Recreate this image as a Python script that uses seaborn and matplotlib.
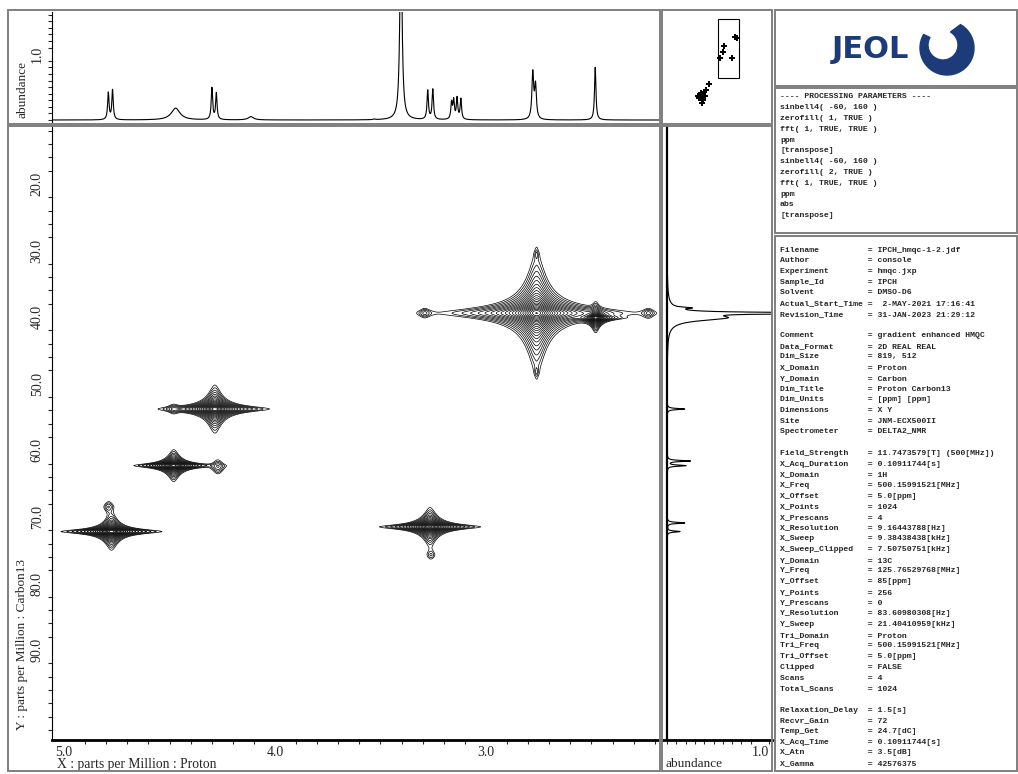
import numpy as np
import pandas as pd
import matplotlib
matplotlib.use("Agg")
import matplotlib.pyplot as plt
from matplotlib.patches import Rectangle, Polygon
from matplotlib.ticker import MultipleLocator, FormatStrFormatter, FixedLocator
import seaborn as sns

# 1H projection (top trace): ppm, height, half width [ppm]
h_ppm = [4.790, 4.770, 4.471, 4.299, 4.278, 4.114, 3.530, 3.403, 3.276, 3.252,
         3.163, 3.153, 3.137, 3.119, 2.778, 2.765, 2.482]
h_height = [0.41, 0.45, 0.18, 0.48, 0.40, 0.05, 0.01, 3.0, 0.44, 0.46,
            0.25, 0.28, 0.32, 0.31, 0.70, 0.50, 0.80]
h_width = [0.004, 0.004, 0.025, 0.004, 0.004, 0.015, 0.005, 0.006, 0.004, 0.004,
           0.004, 0.004, 0.004, 0.004, 0.005, 0.005, 0.004]

# 13C projection (right trace)
c_ppm = [38.6, 39.4, 40.1, 53.8, 61.6, 62.3, 70.9, 72.2]
c_height = [0.17, 2.0, 0.6, 0.19, 0.25, 0.20, 0.19, 0.14]
c_width = [0.12, 0.12, 0.5, 0.10, 0.10, 0.10, 0.10, 0.10]

# HMQC cross peaks: 1H ppm, 13C ppm, half extent in x / y (ppm), intensity
pk_h = [4.775, 4.79, 4.48, 4.27, 4.285, 4.48, 3.265, 3.26, 2.76, 2.76, 2.76, 2.48, 3.29, 2.23]
pk_c = [72.2, 68.5, 62.3, 62.5, 53.8, 53.8, 71.5, 75.7, 39.4, 30.6, 48.2, 40.1, 39.4, 39.4]
pk_dx = [0.24, 0.02, 0.19, 0.03, 0.26, 0.025, 0.24, 0.015, 0.45, 0.004, 0.004, 0.12, 0.025, 0.025]
pk_dy = [2.8, 0.7, 2.4, 1.0, 3.6, 0.6, 2.9, 0.5, 9.0, 0.4, 0.4, 2.2, 0.6, 0.6]
pk_int = [600, 2.6, 400, 3.5, 600, 2.6, 500, 1.8, 1200, 1.5, 1.5, 300, 2.6, 2.6]
SHAPE_P = 1.4

# overview map: aromatic peaks outside the zoomed window
ov_h = [7.43, 7.03, 7.69, 6.77, 6.38, 7.17, 7.82, 6.90, 7.30, 7.50, 7.10]
ov_c = [130.0, 125.4, 134.7, 122.2, 112.9, 137.9, 131.6, 131.6, 142.6, 127.0, 129.0]

proc_lines = [
    "---- PROCESSING PARAMETERS ----",
    "sinbell4( -60, 160 )",
    "zerofill( 1, TRUE )",
    "fft( 1, TRUE, TRUE )",
    "ppm",
    "[transpose]",
    "sinbell4( -60, 160 )",
    "zerofill( 2, TRUE )",
    "fft( 1, TRUE, TRUE )",
    "ppm",
    "abs",
    "[transpose]",
]

param_names = [
    "Filename", "Author", "Experiment", "Sample_Id", "Solvent", "Actual_Start_Time",
    "Revision_Time", "",
    "Comment", "Data_Format", "Dim_Size", "X_Domain", "Y_Domain", "Dim_Title",
    "Dim_Units", "Dimensions", "Site", "Spectrometer", "",
    "Field_Strength", "X_Acq_Duration", "X_Domain", "X_Freq", "X_Offset", "X_Points",
    "X_Prescans", "X_Resolution", "X_Sweep", "X_Sweep_Clipped", "Y_Domain", "Y_Freq",
    "Y_Offset", "Y_Points", "Y_Prescans", "Y_Resolution", "Y_Sweep", "Tri_Domain",
    "Tri_Freq", "Tri_Offset", "Clipped", "Scans", "Total_Scans", "",
    "Relaxation_Delay", "Recvr_Gain", "Temp_Get", "X_Acq_Time", "X_Atn", "X_Gamma",
]
param_values = [
    "IPCH_hmqc-1-2.jdf", "console", "hmqc.jxp", "IPCH", "DMSO-D6", " 2-MAY-2021 17:16:41",
    "31-JAN-2023 21:29:12", "",
    "gradient enhanced HMQC", "2D REAL REAL", "819, 512", "Proton", "Carbon",
    "Proton Carbon13", "[ppm] [ppm]", "X Y", "JNM-ECX500II", "DELTA2_NMR", "",
    "11.7473579[T] (500[MHz])", "0.10911744[s]", "1H", "500.15991521[MHz]", "5.0[ppm]",
    "1024", "4", "9.16443788[Hz]", "9.38438438[kHz]", "7.50750751[kHz]", "13C",
    "125.76529768[MHz]", "85[ppm]", "256", "0", "83.60980308[Hz]", "21.40410959[kHz]",
    "Proton", "500.15991521[MHz]", "5.0[ppm]", "FALSE", "4", "1024", "",
    "1.5[s]", "72", "24.7[dC]", "0.10911744[s]", "3.5[dB]", "42576375",
]

X_LIM = (5.057, 2.175)
Y_LIM = (103.5, 11.3)
Y_MAJOR = [20, 30, 40, 50, 60, 70, 80, 90]

sns.set_style("white")
plt.rcParams["font.family"] = ["Liberation Serif", "DejaVu Serif"]
plt.rcParams["font.size"] = 10

W, H = 1018, 774
fig = plt.figure(figsize=(W / 100, H / 100), dpi=100)


def box(l, t, r, b):
    return [l / W, 1 - b / H, (r - l) / W, (b - t) / H]


# panel frames
for l, t, r, b in [(8, 10, 660, 124), (8, 126, 660, 771), (662, 10, 772, 124),
                   (662, 126, 772, 771), (775, 10, 1017, 86), (775, 88, 1017, 233),
                   (775, 236, 1017, 771)]:
    fig.patches.append(Rectangle((l / W, 1 - b / H), (r - l) / W, (b - t) / H,
                                 transform=fig.transFigure, fill=False,
                                 edgecolor="#7f7f7f", linewidth=1.4))

# --- top 1H trace
x = np.linspace(X_LIM[0], X_LIM[1], 4000)
inten = np.zeros_like(x)
for p, a, w in zip(h_ppm, h_height, h_width):
    inten += a / (1 + ((x - p) / w) ** 2)
top_df = pd.DataFrame({"ppm": x, "abundance": inten})

ax_top = fig.add_axes(box(52, 12, 660, 122))
sns.lineplot(data=top_df, x="ppm", y="abundance", ax=ax_top, color="black",
             linewidth=0.8, estimator=None, sort=False)
ax_top.set_xlim(*X_LIM)
ax_top.set_ylim(-0.03, 1.64)
ax_top.set_xticks([])
ax_top.yaxis.set_major_locator(FixedLocator([1.0]))
ax_top.yaxis.set_minor_locator(MultipleLocator(0.1))
ax_top.yaxis.set_major_formatter(FormatStrFormatter("%.1f"))
ax_top.tick_params(axis="y", which="major", length=5, width=0.8, direction="out",
                   labelrotation=90, pad=1)
ax_top.tick_params(axis="y", which="minor", length=3, width=0.8, direction="out", left=True)
for lab in ax_top.get_yticklabels():
    lab.set_va("center")
ax_top.set_xlabel("")
ax_top.set_ylabel("abundance", fontsize=9.5)
ax_top.yaxis.set_label_coords(-0.049, 0.036)
ax_top.yaxis.label.set_va("center")
ax_top.yaxis.label.set_ha("left")
for s in ["top", "right", "bottom"]:
    ax_top.spines[s].set_visible(False)
ax_top.spines["left"].set_color("black")
ax_top.patch.set_alpha(0)

# --- main HMQC contour map
gx = np.linspace(X_LIM[0], X_LIM[1], 1000)
gy = np.linspace(Y_LIM[1], Y_LIM[0], 900)
GX, GY = np.meshgrid(gx, gy)
Z = np.zeros_like(GX)
for ph, pc, dx, dy, a in zip(pk_h, pk_c, pk_dx, pk_dy, pk_int):
    s = np.sqrt(a ** (1 / SHAPE_P) - 1)
    core = 1 / (1 + ((GX - ph) / (dx / s)) ** 2) / (1 + ((GY - pc) / (dy / s)) ** 2)
    Z += a * core ** SHAPE_P

ax = fig.add_axes(box(52, 126, 660, 740))
ax.contour(GX, GY, Z, levels=1.0 * 1.4 ** np.arange(22), colors="black", linewidths=0.5)
ax.set_xlim(*X_LIM)
ax.set_ylim(*Y_LIM)
ax.xaxis.set_major_locator(MultipleLocator(1.0))
ax.xaxis.set_minor_locator(MultipleLocator(0.1))
ax.xaxis.set_major_formatter(FormatStrFormatter("%.1f"))
ax.yaxis.set_major_locator(FixedLocator(Y_MAJOR))
ax.yaxis.set_minor_locator(MultipleLocator(2))
ax.yaxis.set_major_formatter(FormatStrFormatter("%.1f"))
ax.tick_params(axis="x", which="major", length=4, width=0.8, direction="out", pad=0)
ax.tick_params(axis="x", which="minor", length=3, width=0.8, direction="out", bottom=True)
ax.tick_params(axis="y", which="major", length=5, width=0.8, direction="out",
               labelrotation=90, pad=1)
ax.tick_params(axis="y", which="minor", length=3, width=0.8, direction="out", left=True)
for lab in ax.get_yticklabels():
    lab.set_va("center")
ax.set_xlabel("X : parts per Million : Proton", fontsize=9.8)
ax.xaxis.set_label_coords(0.008, -0.029)
ax.xaxis.label.set_ha("left")
ax.xaxis.label.set_va("top")
ax.set_ylabel("Y : parts per Million : Carbon13", fontsize=9.5)
ax.yaxis.set_label_coords(-0.049, 0.016)
ax.yaxis.label.set_ha("left")
ax.yaxis.label.set_va("center")
for s in ["top", "right"]:
    ax.spines[s].set_visible(False)
ax.spines["left"].set_color("black")
ax.spines["bottom"].set_color("black")
ax.spines["bottom"].set_linewidth(2)
ax.patch.set_alpha(0)

# --- right 13C trace
cy = np.linspace(Y_LIM[1], Y_LIM[0], 4000)
cint = np.zeros_like(cy)
for p, a, w in zip(c_ppm, c_height, c_width):
    cint += a / (1 + ((cy - p) / w) ** 2)
proj_df = pd.DataFrame({"ppm": cy, "abundance": cint})

ax_r = fig.add_axes(box(662, 126, 772, 740))
sns.lineplot(data=proj_df, x="abundance", y="ppm", ax=ax_r, color="black",
             linewidth=0.8, estimator=None, sort=False)
ax_r.axvline(0, color="black", linewidth=1.6)
ax_r.set_ylim(*Y_LIM)
ax_r.set_xlim(-0.054, 1.129)
ax_r.set_yticks([])
ax_r.xaxis.set_major_locator(FixedLocator([1.0]))
ax_r.xaxis.set_minor_locator(MultipleLocator(0.1))
ax_r.xaxis.set_major_formatter(FormatStrFormatter("%.1f"))
ax_r.tick_params(axis="x", which="major", length=4, width=0.8, direction="out", pad=0)
ax_r.tick_params(axis="x", which="minor", length=3, width=0.8, direction="out", bottom=True)
ax_r.set_ylabel("")
ax_r.set_xlabel("abundance", fontsize=9.5)
ax_r.xaxis.set_label_coords(0.03, -0.029)
ax_r.xaxis.label.set_ha("left")
ax_r.xaxis.label.set_va("top")
for s in ["top", "right", "left"]:
    ax_r.spines[s].set_visible(False)
ax_r.spines["bottom"].set_color("black")
ax_r.spines["bottom"].set_linewidth(2)
ax_r.patch.set_alpha(0)

# --- overview thumbnail
main_idx = [0, 2, 4, 6, 8, 11]
main_pts = pd.DataFrame({"h": [pk_h[i] for i in main_idx], "c": [pk_c[i] for i in main_idx]})
ov_pts = pd.DataFrame({"h": ov_h, "c": ov_c})
ax_t = fig.add_axes(box(664, 12, 770, 122))
sns.scatterplot(data=ov_pts, x="h", y="c", ax=ax_t, marker="P", s=22, color="black",
                edgecolor="black", linewidth=0)
sns.scatterplot(data=main_pts, x="h", y="c", ax=ax_t, marker="P", s=16, color="black",
                edgecolor="black", linewidth=0)
ax_t.add_patch(Rectangle((X_LIM[0], Y_LIM[1]), X_LIM[1] - X_LIM[0], Y_LIM[0] - Y_LIM[1],
                         fill=False, edgecolor="black", linewidth=0.8))
ax_t.set_xlim(12.5, -2.0)
ax_t.set_ylim(172, 0)
ax_t.set_axis_off()

# --- logo
ax_l = fig.add_axes(box(775, 10, 1017, 86))
ax_l.set_xlim(775, 1017)
ax_l.set_ylim(86, 10)
ax_l.set_axis_off()
ax_l.text(870, 49, "JEOL", color="#1d3b78", fontsize=22, fontweight="heavy",
          family="DejaVu Sans", ha="center", va="center")
th = np.radians(np.linspace(150, 420, 120))
outer = np.column_stack([947 + 27 * np.cos(th), 48 - 27 * np.sin(th)])
inner = np.column_stack([943 + 15 * np.cos(th[::-1]), 45 - 15 * np.sin(th[::-1])])
ax_l.add_patch(Polygon(np.vstack([outer, inner]), closed=True, color="#1d3b78"))

# --- parameter text
for i, line in enumerate(proc_lines):
    fig.text(780 / W, 1 - (97 + i * 10.8) / H, line, family="Liberation Mono",
             fontsize=5.9, fontweight="bold", va="center", ha="left")
for i, (n, v) in enumerate(zip(param_names, param_values)):
    if not n:
        continue
    fig.text(780 / W, 1 - (250 + i * 10.7) / H, f"{n:<18}= {v}", family="Liberation Mono",
             fontsize=5.9, fontweight="bold", va="center", ha="left")

fig.savefig("out.png", dpi=100)
